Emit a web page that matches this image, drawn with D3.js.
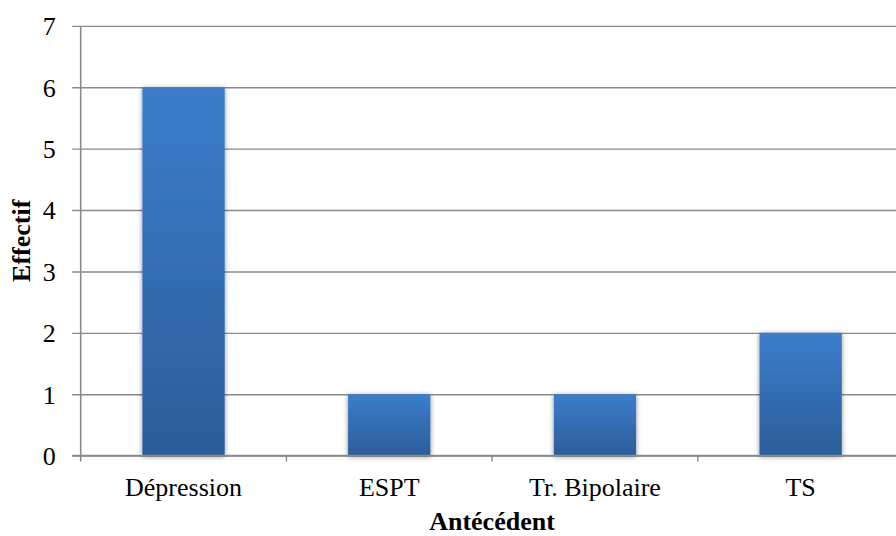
<!DOCTYPE html>
<html>
<head>
<meta charset="utf-8">
<script src="https://cdn.jsdelivr.net/npm/d3@7"></script>
<style>
  html, body { margin: 0; padding: 0; background: #fff; }
  svg { display: block; }
  text { font-family: "Liberation Serif", "Times New Roman", serif; fill: #000; }
</style>
</head>
<body>
<svg id="chart" width="896" height="536"></svg>
<script>
// Antécédents psychiatriques : effectifs par catégorie
const categories = ["Dépression", "ESPT", "Tr. Bipolaire", "TS"];
const effectifs = [6, 1, 1, 2];
const yTicks = [0, 1, 2, 3, 4, 5, 6, 7];
const yTitle = "Effectif";
const xTitle = "Antécédent";

const W = 896, H = 536;
const plot = { left: 80.7, right: 903.5, top: 25.9, bottom: 455.6 };
const gridColor = "#8a8a8a";

const svg = d3.select("#chart");

const x = d3.scaleBand()
  .domain(categories)
  .range([plot.left, plot.right])
  .paddingInner(0.6)
  .paddingOuter(0.3);

const y = d3.scaleLinear()
  .domain([0, 7])
  .range([plot.bottom, plot.top]);

// Gradient and shadow for the bars
const defs = svg.append("defs");
const grad = defs.append("linearGradient")
  .attr("id", "barGrad")
  .attr("x1", 0).attr("y1", 0).attr("x2", 0).attr("y2", 1);
grad.append("stop").attr("offset", "0%").attr("stop-color", "#3b7dcb");
grad.append("stop").attr("offset", "100%").attr("stop-color", "#2c5d9a");

const shadow = defs.append("filter")
  .attr("id", "barShadow")
  .attr("x", "-30%").attr("y", "-10%")
  .attr("width", "160%").attr("height", "125%");
shadow.append("feDropShadow")
  .attr("dx", 0).attr("dy", 1)
  .attr("stdDeviation", 2.4)
  .attr("flood-color", "#000")
  .attr("flood-opacity", 0.45);

// Horizontal gridlines with left ticks
const yAxis = d3.axisLeft(y)
  .tickValues(yTicks)
  .tickSize(-(plot.right - plot.left))
  .tickPadding(16)
  .tickFormat(d3.format("d"));

const gy = svg.append("g")
  .attr("transform", `translate(${plot.left},0)`)
  .call(yAxis);
gy.select(".domain").remove();
gy.selectAll(".tick line")
  .attr("x1", -8.5)
  .attr("stroke", gridColor)
  .attr("stroke-width", 1.4);
gy.selectAll(".tick text")
  .attr("font-size", 26)
  .attr("font-family", "Liberation Serif, Times New Roman, serif")
  .attr("fill", "#000")
  .attr("x", -25)
  .attr("dy", "0.34em");

// Bars
svg.append("g")
  .selectAll("rect")
  .data(effectifs)
  .join("rect")
  .attr("x", (d, i) => x(categories[i]))
  .attr("y", d => y(d))
  .attr("width", x.bandwidth())
  .attr("height", d => y(0) - y(d))
  .attr("fill", "url(#barGrad)")
  .attr("filter", "url(#barShadow)");

// Vertical axis line
svg.append("line")
  .attr("x1", plot.left).attr("x2", plot.left)
  .attr("y1", plot.top).attr("y2", plot.bottom + 6)
  .attr("stroke", gridColor)
  .attr("stroke-width", 1.6);

// Category axis
const xBounds = d3.scaleLinear().domain([0, categories.length]).range([plot.left, plot.right]);
const gx = svg.append("g");
gx.append("line")
  .attr("x1", plot.left - 8.5).attr("x2", W)
  .attr("y1", plot.bottom).attr("y2", plot.bottom)
  .attr("stroke", gridColor)
  .attr("stroke-width", 1.6);
gx.selectAll("line.sep")
  .data(d3.range(1, categories.length))
  .join("line")
  .attr("class", "sep")
  .attr("x1", d => xBounds(d)).attr("x2", d => xBounds(d))
  .attr("y1", plot.bottom).attr("y2", plot.bottom + 6)
  .attr("stroke", gridColor)
  .attr("stroke-width", 1.4);
gx.selectAll("text")
  .data(categories)
  .join("text")
  .attr("x", d => x(d) + x.bandwidth() / 2)
  .attr("y", 496)
  .attr("text-anchor", "middle")
  .attr("font-size", 26)
  .text(d => d);

// Axis titles
svg.append("text")
  .attr("x", 492)
  .attr("y", 530)
  .attr("text-anchor", "middle")
  .attr("font-size", 26)
  .attr("font-weight", "bold")
  .text(xTitle);

svg.append("text")
  .attr("transform", `translate(30,${(plot.top + plot.bottom) / 2}) rotate(-90)`)
  .attr("text-anchor", "middle")
  .attr("font-size", 26)
  .attr("font-weight", "bold")
  .text(yTitle);
</script>
</body>
</html>
